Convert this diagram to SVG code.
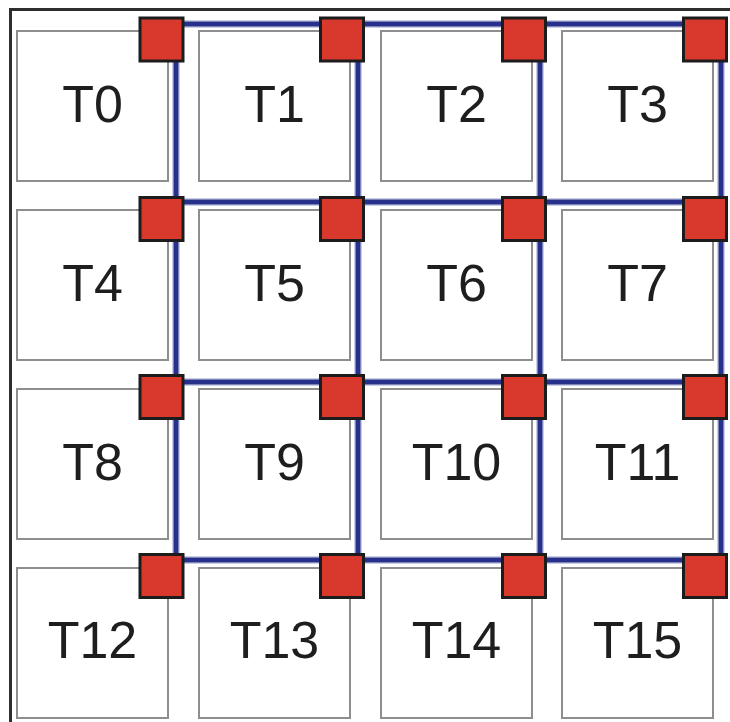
<svg xmlns="http://www.w3.org/2000/svg" width="730" height="722" viewBox="0 0 730 722">
<style>
.tile rect{fill:#fff;stroke:#8e8e8e;stroke-width:2}
.tile text{font-family:"Liberation Sans",Arial,sans-serif;font-size:52px;fill:#1e1e1e;text-anchor:middle}
.router rect{fill:#d9382d;stroke:#1c1c1c;stroke-width:3}
.halo{stroke:#9aa0c8;stroke-width:7;fill:none}
.core{stroke:#27308a;stroke-width:4.5;fill:none}
</style>
<rect x="0" y="0" width="730" height="722" fill="#fff"/>
<rect id="frame" x="10.5" y="9.5" width="760" height="760" fill="none" stroke="#2e2e2e" stroke-width="3"/>
<g id="tiles">
<g id="T0" class="tile"><rect x="17" y="31" width="151" height="150"/><text x="92.5" y="122">T0</text></g>
<g id="T1" class="tile"><rect x="199" y="31" width="151" height="150"/><text x="274.5" y="122">T1</text></g>
<g id="T2" class="tile"><rect x="381" y="31" width="151" height="150"/><text x="456.5" y="122">T2</text></g>
<g id="T3" class="tile"><rect x="562" y="31" width="151" height="150"/><text x="637.5" y="122">T3</text></g>
<g id="T4" class="tile"><rect x="17" y="210" width="151" height="150"/><text x="92.5" y="301">T4</text></g>
<g id="T5" class="tile"><rect x="199" y="210" width="151" height="150"/><text x="274.5" y="301">T5</text></g>
<g id="T6" class="tile"><rect x="381" y="210" width="151" height="150"/><text x="456.5" y="301">T6</text></g>
<g id="T7" class="tile"><rect x="562" y="210" width="151" height="150"/><text x="637.5" y="301">T7</text></g>
<g id="T8" class="tile"><rect x="17" y="389" width="151" height="150"/><text x="92.5" y="480">T8</text></g>
<g id="T9" class="tile"><rect x="199" y="389" width="151" height="150"/><text x="274.5" y="480">T9</text></g>
<g id="T10" class="tile"><rect x="381" y="389" width="151" height="150"/><text x="456.5" y="480">T10</text></g>
<g id="T11" class="tile"><rect x="562" y="389" width="151" height="150"/><text x="637.5" y="480">T11</text></g>
<g id="T12" class="tile"><rect x="17" y="568" width="151" height="150"/><text x="92.5" y="658">T12</text></g>
<g id="T13" class="tile"><rect x="199" y="568" width="151" height="150"/><text x="274.5" y="658">T13</text></g>
<g id="T14" class="tile"><rect x="381" y="568" width="151" height="150"/><text x="456.5" y="658">T14</text></g>
<g id="T15" class="tile"><rect x="562" y="568" width="151" height="150"/><text x="637.5" y="658">T15</text></g>
</g>
<g id="connectors">
<path class="halo" d="M176,24H721M176,202H721M176,382H721M176,560H721M176,24V560M358,24V560M540,24V560M721,24V560"/>
<path class="core" d="M176,24H721M176,202H721M176,382H721M176,560H721M176,24V560M358,24V560M540,24V560M721,24V560"/>
</g>
<g id="routers">
<g id="R0" class="router"><rect x="140" y="18" width="43" height="43"/></g>
<g id="R1" class="router"><rect x="320.5" y="18" width="43" height="43"/></g>
<g id="R2" class="router"><rect x="502.5" y="18" width="43" height="43"/></g>
<g id="R3" class="router"><rect x="683.5" y="18" width="43" height="43"/></g>
<g id="R4" class="router"><rect x="140" y="197.5" width="43" height="43"/></g>
<g id="R5" class="router"><rect x="320.5" y="197.5" width="43" height="43"/></g>
<g id="R6" class="router"><rect x="502.5" y="197.5" width="43" height="43"/></g>
<g id="R7" class="router"><rect x="683.5" y="197.5" width="43" height="43"/></g>
<g id="R8" class="router"><rect x="140" y="375.5" width="43" height="43"/></g>
<g id="R9" class="router"><rect x="320.5" y="375.5" width="43" height="43"/></g>
<g id="R10" class="router"><rect x="502.5" y="375.5" width="43" height="43"/></g>
<g id="R11" class="router"><rect x="683.5" y="375.5" width="43" height="43"/></g>
<g id="R12" class="router"><rect x="140" y="554.5" width="43" height="43"/></g>
<g id="R13" class="router"><rect x="320.5" y="554.5" width="43" height="43"/></g>
<g id="R14" class="router"><rect x="502.5" y="554.5" width="43" height="43"/></g>
<g id="R15" class="router"><rect x="683.5" y="554.5" width="43" height="43"/></g>
</g>
</svg>
